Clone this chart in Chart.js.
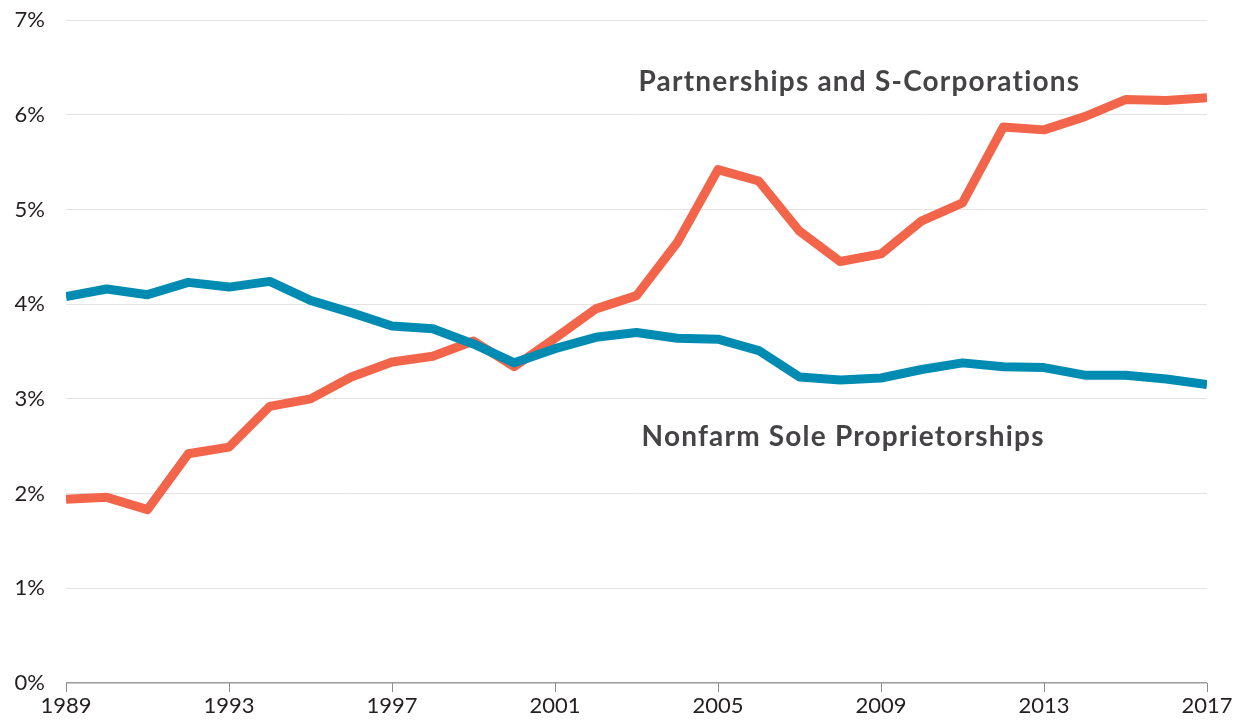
<!DOCTYPE html>
<html>
<head>
<meta charset="utf-8">
<script src="https://cdn.jsdelivr.net/npm/chart.js@4/dist/chart.umd.min.js"></script>
<style>
html,body{margin:0;padding:0;background:#fff;}
#wrap{width:1239px;height:723px;position:relative;}
</style>
</head>
<body>
<div id="wrap"><canvas id="c" width="1239" height="723"></canvas></div>
<script>
const years = [1989,1990,1991,1992,1993,1994,1995,1996,1997,1998,1999,2000,2001,2002,2003,2004,2005,2006,2007,2008,2009,2010,2011,2012,2013,2014,2015,2016,2017];
const partnershipsSCorps = [1.94,1.96,1.83,2.42,2.49,2.92,3.00,3.23,3.39,3.45,3.61,3.34,3.64,3.95,4.09,4.65,5.42,5.30,4.77,4.45,4.53,4.88,5.07,5.87,5.84,5.98,6.16,6.15,6.18];
const nonfarmSoleProps = [4.08,4.16,4.10,4.23,4.18,4.24,4.04,3.91,3.77,3.74,3.58,3.38,3.53,3.65,3.70,3.64,3.63,3.51,3.23,3.20,3.22,3.31,3.38,3.34,3.33,3.25,3.25,3.21,3.15];
const yTicks = [0,1,2,3,4,5,6,7];
const seriesNames = ["Partnerships and S-Corporations","Nonfarm Sole Proprietorships"];

const toPts = arr => years.map((yr,i)=>({x:yr,y:arr[i]}));

const labelPlugin = {
  id:'seriesLabels',
  afterDatasetsDraw(chart){
    const {ctx, scales:{x,y}} = chart;
    ctx.save();
    ctx.font = 'bold 28px Lato';
    try { ctx.letterSpacing = '1.2px'; } catch(e) {}
    ctx.fillStyle = '#454346';
    ctx.textAlign = 'center';
    ctx.textBaseline = 'middle';
    ctx.fillText(seriesNames[0], x.getPixelForValue(2008.47), y.getPixelForValue(6.35));
    ctx.fillText(seriesNames[1], x.getPixelForValue(2008.07), y.getPixelForValue(2.60));
    ctx.restore();
  }
};

new Chart(document.getElementById('c'), {
  type:'line',
  data:{
    datasets:[
      {label:seriesNames[1], data:toPts(nonfarmSoleProps), borderColor:'#008CB2', borderWidth:9, pointRadius:0, tension:0, borderJoinStyle:'round', borderCapStyle:'butt'},
      {label:seriesNames[0], data:toPts(partnershipsSCorps), borderColor:'#F2654A', borderWidth:9, pointRadius:0, tension:0, borderJoinStyle:'round', borderCapStyle:'butt'}
    ]
  },
  options:{
    responsive:false,
    animation:false,
    layout:{padding:{top:20,right:32,left:0,bottom:0}},
    plugins:{legend:{display:false}, tooltip:{enabled:false}},
    scales:{
      x:{
        type:'linear', min:1989, max:2017,
        afterFit(axis){ axis.paddingLeft = 0; axis.paddingRight = 0; axis.height = 40; },
        grid:{display:true, drawOnChartArea:false, drawTicks:true, tickLength:9, color:'#8a8a8a', lineWidth:1},
        border:{display:false},
        ticks:{stepSize:4, color:'#231f20', font:{family:'Lato', size:22}, padding:1, maxRotation:0, callback:v=>String(v)}
      },
      y:{
        min:0, max:7,
        afterBuildTicks(axis){ axis.ticks = yTicks.map(v=>({value:v})); },
        afterFit(axis){ axis.paddingTop = 0; axis.paddingBottom = 0; axis.width = 66; },
        grid:{drawTicks:false, color:ctx=>ctx.tick && ctx.tick.value===0 ? '#9a9a9a' : '#e3e3e3', lineWidth:ctx=>ctx.tick && ctx.tick.value===0 ? 1.5 : 1},
        border:{display:false},
        ticks:{color:'#231f20', font:{family:'Lato', size:22}, padding:21, callback:v=>v+'%'}
      }
    }
  },
  plugins:[labelPlugin]
});
</script>
</body>
</html>
